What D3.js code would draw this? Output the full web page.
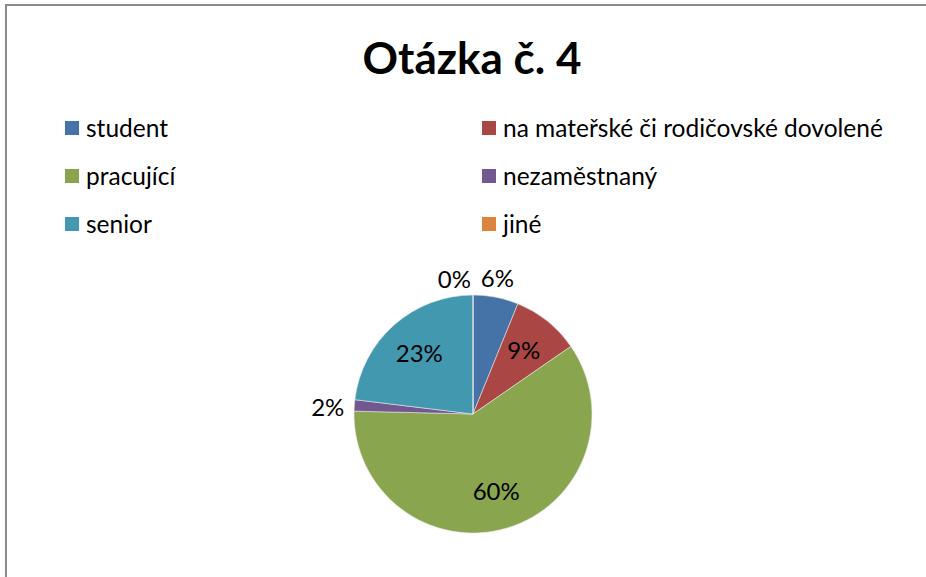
<!DOCTYPE html>
<html>
<head>
<meta charset="utf-8">
<script src="https://cdn.jsdelivr.net/npm/d3@7"></script>
<style>
  body { margin: 0; background: #fff; }
  text { font-family: Lato, "Noto Sans", sans-serif; fill: #000; }
</style>
</head>
<body>
<script>
var width = 926, height = 577;

// data (counts; percentages are derived)
var categories = ["student", "na mateřské či rodičovské dovolené", "pracující",
                  "nezaměstnaný", "senior", "jiné"];
var counts = [4, 6, 39, 1, 15, 0];
var colors = ["#4572A7", "#AA4643", "#89A54E", "#71588F", "#4198AF", "#DB843D"];
var title = "Otázka č. 4";

var data = categories.map(function(c, i) {
  return {name: c, value: counts[i], color: colors[i]};
});
var total = d3.sum(counts);
var pct = d3.format(".0%");

var svg = d3.select("body").append("svg")
  .attr("width", width)
  .attr("height", height);

// chart frame
svg.append("rect")
  .attr("x", 6).attr("y", 5)
  .attr("width", 940).attr("height", 600)
  .style("fill", "none")
  .style("stroke", "#8c8c8c")
  .style("stroke-width", 2);

svg.append("text")
  .attr("x", 472)
  .attr("y", 74)
  .attr("text-anchor", "middle")
  .style("font-size", "44px")
  .style("font-weight", "bold")
  .text(title);

// legend, two columns
var legend = svg.append("g").attr("class", "legend");
var legendItems = legend.selectAll("g")
  .data(data)
  .enter()
  .append("g")
  .attr("transform", function(d, i) {
    var col = i % 2, row = Math.floor(i / 2);
    return "translate(" + (65 + col * 417) + "," + (128 + row * 48) + ")";
  });

legendItems.append("rect")
  .attr("x", 0).attr("y", -7)
  .attr("width", 14).attr("height", 14)
  .style("fill", d => d.color);

legendItems.append("text")
  .attr("x", 21)
  .attr("y", 0)
  .attr("dy", "0.36em")
  .style("font-size", "24.5px")
  .text(d => d.name);

// pie
var cx = 473, cy = 414, radius = 119;

var pie = d3.pie().sort(null).value(d => d.value);
var arcs = pie(data);

var arc = d3.arc().innerRadius(0).outerRadius(radius);

var g = svg.append("g")
  .attr("transform", "translate(" + cx + "," + cy + ")");

g.selectAll("path")
  .data(arcs)
  .enter()
  .append("path")
  .attr("d", arc)
  .style("fill", d => d.data.color)
  .style("stroke", "#e8e8e8")
  .style("stroke-width", 0.6);

// labels: inside for large slices, outside for small ones
var inner = d3.arc().innerRadius(81).outerRadius(81);
var outR = radius + 8;

var labels = g.selectAll("text.lbl")
  .data(arcs)
  .enter()
  .append("text")
  .attr("class", "lbl")
  .attr("dy", "0.35em")
  .style("font-size", "24px")
  .text(d => pct(d.data.value / total));

labels.each(function(d) {
  var node = d3.select(this);
  var small = d.data.value / total < 0.08;
  if (!small) {
    var p = inner.centroid(d);
    node.attr("x", p[0]).attr("y", p[1]).attr("text-anchor", "middle");
  } else {
    var a = (d.startAngle + d.endAngle) / 2;
    var s = Math.sin(a), c = Math.cos(a);
    var left = s < 1e-6 || a >= 2 * Math.PI - 1e-6;
    node.attr("x", outR * s + (left ? -2 : 0))
      .attr("y", -outR * c - c * 11 + (left ? 4 : 0))
      .attr("text-anchor", left ? "end" : "middle");
  }
});
</script>
</body>
</html>
